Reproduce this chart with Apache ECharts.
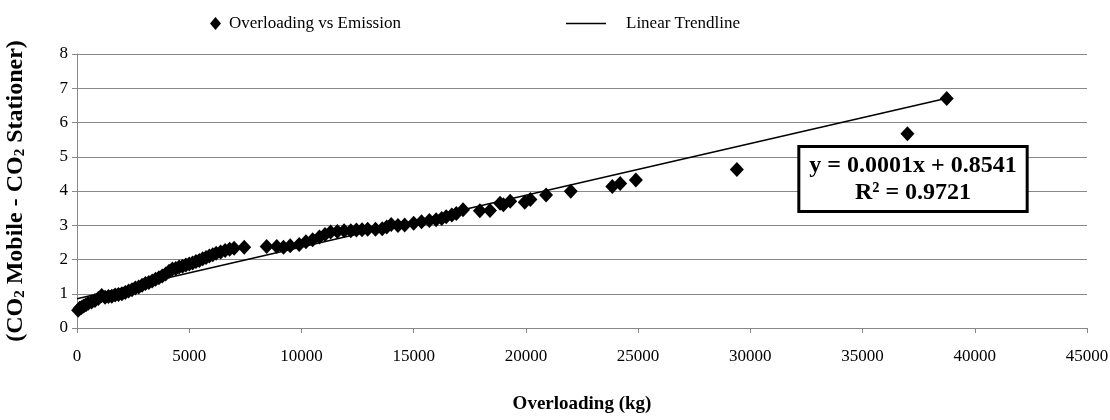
<!DOCTYPE html>
<html><head><meta charset="utf-8">
<script src="https://cdn.jsdelivr.net/npm/echarts@6/dist/echarts.min.js"></script>
<style>html,body{margin:0;padding:0;background:#fff}#c{width:1110px;height:420px}</style>
</head><body><div id="c"></div>
<script>
var overloadKg = [50,120,200,300,400,500,650,800,950,1100,1250,1400,1550,1700,1850,2000,2150,2300,2450,2600,2750,2900,3050,3200,3350,3500,3650,3800,3950,4100,4250,4400,4550,4700,4850,5000,5150,5300,5450,5600,5750,5900,6050,6200,6400,6600,6800,7000,7450,8450,8900,9200,9500,9900,10200,10500,10800,11050,11300,11600,11900,12200,12450,12700,12950,13300,13600,13800,14000,14300,14600,15000,15350,15700,16000,16250,16450,16700,16900,17200,17950,18400,18850,19000,19300,19950,20200,20900,22000,23850,24200,24900,29400,37000,38750];
var emissionDiff = [0.52,0.58,0.6,0.64,0.68,0.72,0.76,0.8,0.86,0.95,0.9,0.92,0.93,0.96,0.98,1.0,1.04,1.08,1.12,1.17,1.2,1.25,1.3,1.33,1.37,1.42,1.47,1.52,1.58,1.66,1.72,1.74,1.78,1.8,1.84,1.87,1.9,1.94,1.97,2.02,2.06,2.1,2.14,2.18,2.22,2.26,2.3,2.33,2.36,2.38,2.38,2.36,2.4,2.44,2.52,2.58,2.66,2.73,2.8,2.82,2.84,2.84,2.86,2.87,2.88,2.88,2.9,2.95,3.02,2.99,3.01,3.06,3.1,3.14,3.16,3.2,3.25,3.3,3.34,3.45,3.42,3.43,3.64,3.6,3.7,3.67,3.75,3.88,3.99,4.13,4.22,4.32,4.63,5.67,6.7];
var trendSlope = 0.000151;
var trendIntercept = 0.8541;
var trendX = [0, 38750];
var xTicks = [0,5000,10000,15000,20000,25000,30000,35000,40000,45000];
var yTicks = [0,1,2,3,4,5,6,7,8];
var equationText = 'y = 0.0001x + 0.8541\nR² = 0.9721';

var scatterData = overloadKg.map(function(x,i){return [x, emissionDiff[i]];});
var trendData = trendX.map(function(x){return [x, trendIntercept + trendSlope*x];});
var FONT = '"Liberation Serif","Times New Roman",serif';
var GRID = '#888888';

var chart = echarts.init(document.getElementById('c'));
chart.setOption({
  animation:false,
  backgroundColor:'#ffffff',
  textStyle:{fontFamily:FONT,color:'#000'},
  grid:{left:77,right:23,top:54,bottom:92,containLabel:false,outerBoundsMode:'none'},
  legend:[
    {data:[{name:'Overloading vs Emission',icon:'diamond'}],left:205,top:10,itemWidth:11,itemHeight:13,
     textStyle:{fontFamily:FONT,fontSize:17,color:'#000',padding:[0,0,0,3]}},
    {data:[{name:'Linear Trendline',icon:'rect'}],left:561,top:10,itemWidth:40,itemHeight:1.5,
     textStyle:{fontFamily:FONT,fontSize:17,color:'#000',padding:[0,0,0,15]}}
  ],
  xAxis:{type:'value',min:xTicks[0],max:xTicks[xTicks.length-1],interval:xTicks[1]-xTicks[0],
    name:'Overloading (kg)',nameLocation:'middle',nameGap:67,
    nameTextStyle:{fontFamily:FONT,fontSize:19,fontWeight:'bold',color:'#000'},
    axisLine:{show:true,lineStyle:{color:GRID,width:1}},
    axisTick:{show:true,length:5,lineStyle:{color:GRID}},
    axisLabel:{fontFamily:FONT,fontSize:17,color:'#000',margin:20,formatter:function(v){return String(v);}},
    splitLine:{show:false}},
  yAxis:{type:'value',min:yTicks[0],max:yTicks[yTicks.length-1],interval:yTicks[1]-yTicks[0],
    name:'(CO{s|2} Mobile - CO{s|2} Stationer)',nameLocation:'middle',nameGap:49,
    nameTextStyle:{fontFamily:FONT,fontSize:24,fontWeight:'bold',color:'#000',lineHeight:25,
      rich:{s:{fontFamily:FONT,fontSize:15,fontWeight:'bold',color:'#000',lineHeight:16,padding:[12,0,0,0],verticalAlign:'bottom'}}},
    axisLine:{show:true,lineStyle:{color:GRID,width:1}},
    axisTick:{show:true,length:5,lineStyle:{color:GRID}},
    axisLabel:{fontFamily:FONT,fontSize:17,color:'#000',margin:9,formatter:function(v){return String(v);}},
    splitLine:{show:true,lineStyle:{color:GRID,width:1}}},
  series:[
    {name:'Overloading vs Emission',type:'scatter',symbol:'diamond',symbolSize:[14,15],
     itemStyle:{color:'#000',opacity:1},data:scatterData,z:3},
    {name:'Linear Trendline',type:'line',symbol:'none',lineStyle:{color:'#000',width:1.5},
     itemStyle:{color:'#000'},data:trendData,z:4}
  ],
  graphic:[{type:'text',x:913,y:148,z:10,
    style:{text:equationText,textAlign:'center',textVerticalAlign:'top',
      font:'bold 24px '+FONT,fill:'#000',lineHeight:27,
      backgroundColor:'#fff',borderColor:'#000',borderWidth:3,padding:[4,9,4,9]}}]
});
</script></body></html>
